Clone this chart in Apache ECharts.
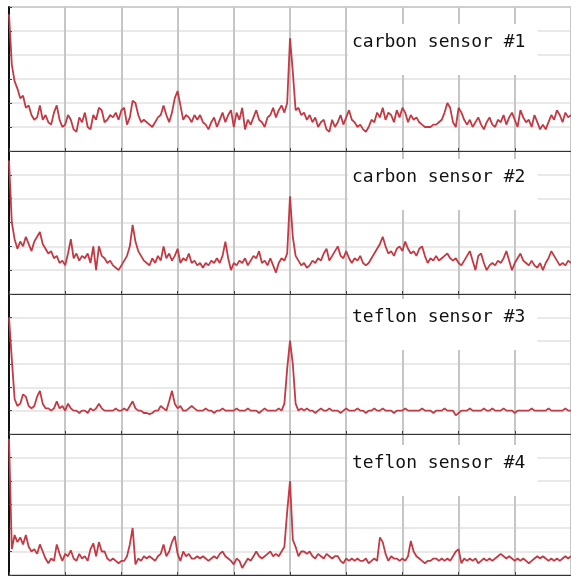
<!DOCTYPE html>
<html>
<head>
<meta charset="utf-8">
<script src="https://cdn.jsdelivr.net/npm/echarts@6/dist/echarts.min.js"></script>
<style>
  html, body { margin: 0; padding: 0; background: #fff; }
  #chart { width: 571px; height: 576px; }
</style>
</head>
<body>
<div id="chart"></div>
<script>
// Sensor names shown in the white boxes
const labels = ['carbon sensor #1', 'carbon sensor #2', 'teflon sensor #3', 'teflon sensor #4'];

// Signal values, one row per grid column (20 samples each), in grid units (0..6)
const carbon1 = [
  5.7,3.6,2.9,2.6,2.2,2.3,1.8,1.9,1.5,1.3,1.4,1.9,1.3,1.5,1.2,1.1,1.6,1.9,1.3,1.0,
  1.1,1.5,1.3,0.9,0.8,1.4,1.2,1.6,1.0,0.9,1.5,1.3,1.8,1.7,1.2,1.3,1.5,1.4,1.6,1.3,
  1.7,1.8,1.1,1.4,2.1,2.0,1.5,1.2,1.3,1.2,1.1,1.0,1.2,1.4,1.5,1.9,1.5,1.2,1.6,2.2,
  2.5,1.9,1.3,1.5,1.4,1.2,1.5,1.3,1.5,1.2,1.1,0.9,1.2,1.4,1.0,1.3,1.6,1.2,1.5,1.7,
  1.0,1.6,1.3,1.8,0.9,1.3,1.1,1.4,1.7,1.3,1.2,1.0,1.4,1.5,1.8,1.4,1.7,1.9,1.6,2.0,
  4.7,3.3,1.7,1.8,1.5,1.6,1.3,1.5,1.2,1.4,1.0,1.2,1.3,0.9,0.8,1.3,1.0,1.2,1.5,1.1,
  1.4,1.7,1.3,1.2,1.0,1.1,0.9,0.8,1.0,1.3,1.2,1.6,1.4,1.8,1.3,1.6,1.5,1.2,1.7,1.4,
  1.8,1.6,1.2,1.5,1.3,1.4,1.2,1.1,1.0,1.0,1.0,1.1,1.1,1.2,1.3,1.6,2.0,1.8,1.2,1.0,
  1.8,1.6,1.3,1.1,1.3,1.0,1.2,1.4,1.1,0.9,1.2,1.4,1.1,1.0,1.3,1.2,1.5,1.1,1.4,1.6,
  1.3,1.0,1.7,1.4,1.2,1.3,1.0,1.5,1.2,0.9,1.1,0.9,1.2,1.5,1.3,1.7,1.5,1.2,1.6,1.4,
  1.5
];
const carbon2 = [
  5.6,3.0,2.3,1.9,2.2,2.0,2.4,2.1,1.8,2.2,2.4,2.6,2.1,1.9,1.7,1.8,1.5,1.6,1.3,1.4,
  1.2,1.7,2.3,1.5,1.7,1.4,1.6,1.5,1.7,1.3,2.0,1.0,2.0,1.6,1.5,1.3,1.4,1.2,1.1,1.0,
  1.2,1.4,1.6,2.0,2.9,2.2,1.8,1.6,1.4,1.3,1.2,1.5,1.3,1.6,1.4,2.0,1.5,1.7,1.4,1.6,
  1.9,1.3,1.5,1.4,1.7,1.3,1.4,1.2,1.3,1.1,1.3,1.2,1.4,1.3,1.5,1.3,1.6,2.2,1.5,1.0,
  1.3,1.2,1.4,1.3,1.5,1.2,1.4,1.6,1.5,1.8,1.3,1.4,1.2,1.5,1.2,0.9,1.3,1.5,1.4,1.7,
  4.1,2.4,1.6,1.4,1.2,1.3,1.1,1.2,1.4,1.3,1.5,1.4,1.7,1.9,1.4,1.6,1.8,2.0,1.6,1.5,
  1.8,1.5,1.3,1.5,1.4,1.6,1.3,1.2,1.3,1.5,1.7,1.9,2.1,2.4,2.0,1.7,1.8,1.6,1.9,2.0,
  1.8,2.2,1.9,1.7,1.8,1.6,1.9,2.0,1.6,1.3,1.5,1.4,1.6,1.4,1.5,1.6,1.7,1.5,1.4,1.5,
  1.3,1.2,1.4,1.6,1.8,1.4,1.0,1.6,1.7,1.3,1.0,1.2,1.3,1.2,1.4,1.3,1.5,1.8,1.4,1.0,
  1.3,1.5,1.7,1.4,1.3,1.2,1.4,1.2,1.1,1.3,1.0,1.3,1.5,1.8,1.6,1.4,1.2,1.3,1.2,1.4,
  1.3
];
const teflon3 = [
  5.0,3.2,1.5,1.2,1.3,1.7,1.6,1.2,1.1,1.2,1.6,1.85,1.3,1.1,1.1,1.0,1.1,1.4,1.1,1.2,
  1.0,1.3,1.1,1.0,1.0,0.9,1.0,1.0,0.9,1.1,1.0,1.1,1.3,1.1,1.0,1.0,1.0,1.0,1.1,1.0,
  1.0,1.1,1.0,1.2,1.4,1.1,1.0,1.0,0.9,0.9,0.85,0.9,1.0,1.0,1.2,1.1,1.0,1.4,1.85,1.3,
  1.1,1.2,1.0,1.0,1.1,1.2,1.1,1.0,1.0,1.0,1.1,1.0,1.0,0.9,1.0,1.0,1.1,1.0,1.0,1.0,
  1.0,1.1,1.0,1.0,1.0,1.1,1.0,1.0,1.0,0.9,1.0,1.1,1.0,1.0,1.0,1.0,1.1,1.0,1.3,2.8,
  4.0,3.0,1.3,1.0,1.1,1.0,1.1,1.0,1.0,0.9,1.0,1.1,1.0,1.0,1.1,1.0,1.0,1.0,0.9,1.0,
  1.1,1.0,1.0,1.0,1.1,1.0,1.0,0.9,1.0,1.0,1.1,1.0,1.0,1.1,1.0,1.0,1.0,0.9,1.0,1.0,
  1.0,1.1,1.0,1.0,1.0,1.0,1.0,1.1,1.0,1.0,1.0,0.9,1.0,1.0,1.0,1.1,1.0,1.0,1.0,0.8,
  0.9,1.0,1.0,1.0,1.1,1.0,1.0,1.0,1.0,1.1,1.0,1.0,1.1,1.0,1.0,1.0,1.1,1.0,1.0,1.0,
  0.9,1.0,1.0,1.0,1.0,1.0,1.1,1.0,1.0,1.0,1.0,1.0,1.1,1.0,1.0,1.0,1.0,1.0,1.1,1.0,
  1.0
];
const teflon4 = [
  5.8,1.1,1.7,1.4,1.6,1.3,1.7,1.2,1.0,1.1,0.9,1.3,1.0,0.7,0.5,0.7,0.6,1.3,0.9,0.6,
  0.9,0.8,1.05,0.7,0.6,0.9,0.7,0.8,0.6,1.1,1.35,0.8,1.4,1.0,1.0,0.7,0.6,0.7,0.6,0.5,
  0.6,0.6,0.8,1.3,2.0,0.45,0.7,0.6,0.8,0.7,0.8,0.7,0.6,0.8,0.9,1.3,0.8,1.0,1.4,1.65,
  0.9,0.6,1.0,0.8,0.9,0.7,0.7,0.8,0.7,0.8,0.7,0.6,0.7,0.8,0.7,0.9,1.0,0.8,0.7,0.6,
  0.45,0.7,0.6,0.3,0.5,0.7,0.6,0.8,1.0,0.8,0.7,0.8,0.9,1.0,0.8,0.9,0.8,1.0,1.2,2.7,
  4.0,1.5,1.2,0.8,1.0,1.0,0.9,1.0,0.8,0.7,0.9,0.8,0.7,0.9,0.8,0.7,0.8,0.8,0.6,0.5,
  0.7,0.6,0.7,0.6,0.7,0.6,0.6,0.7,0.5,0.6,0.7,0.6,1.6,1.4,0.9,0.6,0.8,0.7,0.7,0.6,
  0.7,0.6,0.8,1.45,1.0,0.8,0.7,0.6,0.5,0.6,0.6,0.7,0.7,0.6,0.7,0.6,0.7,0.6,0.8,1.0,
  1.1,0.5,0.7,0.6,0.7,0.6,0.7,0.5,0.6,0.7,0.6,0.7,0.6,0.7,0.8,0.9,0.8,0.7,0.8,0.7,
  0.6,0.7,0.6,0.7,0.6,0.5,0.6,0.7,0.8,0.7,0.8,0.7,0.6,0.7,0.6,0.7,0.6,0.7,0.8,0.7,
  0.8
];

// sample index labels along x (hidden)
const ticks = carbon1.map((v, i) => String(i));

const signals = [carbon1, carbon2, teflon3, teflon4];

// layout of the four stacked panels
const panelTop = [7, 151, 294, 434];
const panelHeight = [144, 143, 140, 141];
const labelTop = [24, 159, 299, 445];

const chart = echarts.init(document.getElementById('chart'));

const option = {
  animation: false,
  backgroundColor: '#fff',
  title: labels.map((t, i) => ({
    text: t,
    left: 348,
    top: labelTop[i],
    backgroundColor: '#fff',
    padding: [9, 12, 24, 4],
    textStyle: {
      fontFamily: 'DejaVu Sans Mono',
      fontSize: 18,
      fontWeight: 'normal',
      color: '#111',
      lineHeight: 18
    }
  })),
  grid: signals.map((s, i) => ({
    left: 9,
    top: panelTop[i],
    width: 565,
    height: panelHeight[i],
    show: true,
    borderColor: '#333',
    borderWidth: 1
  })),
  xAxis: signals.map((s, i) => ({
    gridIndex: i,
    type: 'category',
    data: ticks,
    boundaryGap: false,
    axisLine: { show: true, lineStyle: { color: '#333', width: 1 } },
    axisTick: { show: true, interval: 19, inside: true, length: 3, lineStyle: { color: '#444' } },
    axisLabel: { show: false },
    splitLine: { show: true, interval: 19, lineStyle: { color: '#c6c6c6', width: 2 } }
  })),
  yAxis: signals.map((s, i) => ({
    gridIndex: i,
    type: 'value',
    min: 0,
    max: 6,
    interval: 1,
    axisLine: { show: true, lineStyle: { color: '#111', width: 2 } },
    axisTick: { show: true, inside: true, length: 3, lineStyle: { color: '#444' } },
    axisLabel: { show: false },
    splitLine: { show: true, lineStyle: { color: '#e2e2e2', width: 1.5 } }
  })),
  series: signals.map((s, i) => ({
    type: 'line',
    xAxisIndex: i,
    yAxisIndex: i,
    data: s,
    symbol: 'none',
    z: 3,
    lineStyle: { color: '#c43a44', width: 1.8 }
  }))
};

chart.setOption(option);
</script>
</body>
</html>
